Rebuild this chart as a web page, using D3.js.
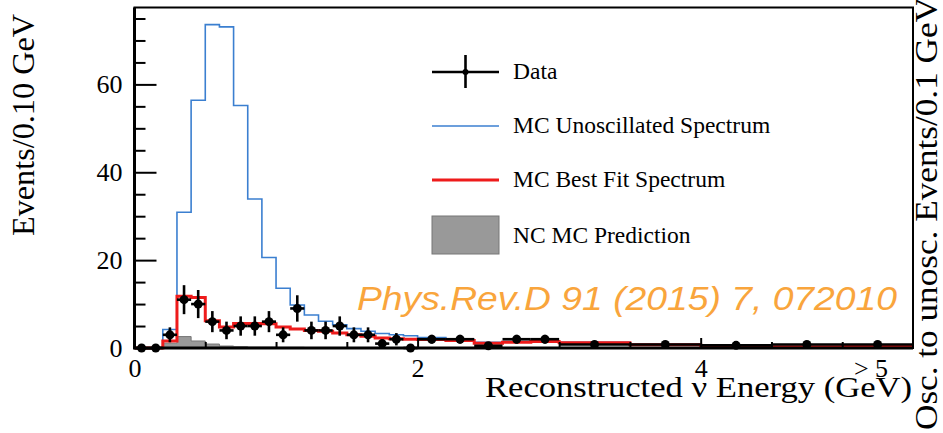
<!DOCTYPE html>
<html lang="en">
<head>
  <meta charset="UTF-8">
  <title>Reconstructed neutrino energy spectrum</title>
  <script src="https://cdnjs.cloudflare.com/ajax/libs/d3/7.8.5/d3.min.js"></script>
  <style>
    body { margin: 0; background: #fff; }
    text { font-family: "Liberation Serif", "Times New Roman", serif; fill: #000; }
  </style>
</head>
<body>
  <svg width="943" height="433"></svg>
  <script>
    // bin edges (GeV): 0.1 wide up to 2, 0.2 up to 3, 0.5 up to 5.5 (overflow)
    const binEdges = [0, 0.1, 0.2, 0.3, 0.4, 0.5, 0.6, 0.7, 0.8, 0.9, 1.0,
      1.1, 1.2, 1.3, 1.4, 1.5, 1.6, 1.7, 1.8, 1.9, 2.0,
      2.2, 2.4, 2.6, 2.8, 3.0, 3.5, 4.0, 4.5, 5.0, 5.5];

    // events / 0.10 GeV
    const unoscMC = [0, 0, 4.2, 30.9, 56.4, 73.6, 73.1, 55.2, 33.9, 20.6,
      13.6, 9.8, 7.5, 6.1, 5.3, 4.4, 3.8, 3.3, 3.0, 2.8,
      2.4, 1.9, 1.3, 1.45, 1.6, 1.3, 0.85, 0.55, 0.35, 0.6];
    const bestFitMC = [0, 0, 1.6, 11.8, 11.5, 6.2, 4.8, 5.6, 5.6, 5.5,
      4.8, 4.3, 4.0, 3.8, 3.4, 3.0, 2.7, 2.3, 2.1, 2.0,
      1.95, 1.7, 1.1, 1.3, 1.5, 1.2, 0.75, 0.5, 0.3, 0.55];
    const ncMC = [0, 0, 1.1, 2.6, 1.6, 0.9, 0.45, 0.3, 0.2, 0.2,
      0.15, 0.15, 0.1, 0.1, 0.1, 0.1, 0.1, 0.05, 0.05, 0.05,
      0.05, 0.05, 0.05, 0.05, 0.05, 0.03, 0.03, 0.02, 0.02, 0.02];
    const dataVals = [0, 0, 3, 11, 10, 6, 4, 5, 5, 6,
      3, 9, 4, 4, 5, 3, 3, 1, 2, 0,
      2, 2, 0.5, 2, 2, 0.8, 0.8, 0.6, 0.8, 0.8];
    const dataErr = [0, 0, 1.7, 3.3, 3.2, 2.4, 2, 2.2, 2.2, 2.4,
      1.7, 3, 2, 2, 2.2, 1.7, 1.7, 1, 1.4, 0,
      1, 1, 0.5, 1, 1, 0.4, 0.4, 0.35, 0.4, 0.4];

    const yTicks = [0, 20, 40, 60];
    const xTickPos = [0, 2, 4, 5.2];
    const xTickLabels = ["0", "2", "4", "> 5"];

    const legendItems = ["Data", "MC Unoscillated Spectrum", "MC Best Fit Spectrum", "NC MC Prediction"];

    const svg = d3.select("svg");
    const x = d3.scaleLinear().domain([0, 5.5]).range([134.5, 913]);
    const y = d3.scaleLinear().domain([0, 77.5]).range([348, 7.5]);

    const blue = "#3b7fd0";
    const red = "#ee1b1b";

    // step outline through the bins
    function stepPoints(vals) {
      const pts = vals.map((v, i) => [binEdges[i], v]);
      pts.push([binEdges[binEdges.length - 1], vals[vals.length - 1]]);
      return pts;
    }
    const stepLine = d3.line().x(d => x(d[0])).y(d => y(d[1])).curve(d3.curveStepAfter);
    const stepArea = d3.area().x(d => x(d[0])).y0(y(0)).y1(d => y(d[1])).curve(d3.curveStepAfter);

    // NC prediction (filled)
    svg.append("path")
      .attr("d", stepArea(stepPoints(ncMC)))
      .attr("fill", "#999")
      .attr("stroke", "#777")
      .attr("stroke-width", 1);

    svg.append("path")
      .attr("d", stepLine(stepPoints(unoscMC)))
      .attr("fill", "none")
      .attr("stroke", blue)
      .attr("stroke-width", 1.6);

    svg.append("path")
      .attr("d", stepLine(stepPoints(bestFitMC)))
      .attr("fill", "none")
      .attr("stroke", red)
      .attr("stroke-width", 3);

    // data points with error bars
    const pts = dataVals.map((v, i) => ({
      lo: binEdges[i], hi: binEdges[i + 1],
      c: (binEdges[i] + binEdges[i + 1]) / 2, v, e: dataErr[i]
    }));
    const dg = svg.append("g");
    dg.selectAll("line.h").data(pts).enter().append("line")
      .attr("x1", d => x(d.lo)).attr("x2", d => x(d.hi))
      .attr("y1", d => y(d.v)).attr("y2", d => y(d.v))
      .attr("stroke", "#000").attr("stroke-width", 2.6);
    dg.selectAll("line.v").data(pts.filter(d => d.e > 0)).enter().append("line")
      .attr("x1", d => x(d.c)).attr("x2", d => x(d.c))
      .attr("y1", d => y(d.v - d.e)).attr("y2", d => y(d.v + d.e))
      .attr("stroke", "#000").attr("stroke-width", 2.6);
    dg.selectAll("circle").data(pts).enter().append("circle")
      .attr("cx", d => x(d.c)).attr("cy", d => y(d.v))
      .attr("r", 4.5).attr("fill", "#000");

    // axes (ticks inward)
    const yMajor = svg.append("g").attr("transform", `translate(${x(0)},0)`)
      .call(d3.axisLeft(y).tickValues(yTicks).tickSize(-22).tickPadding(12));
    const yMinor = svg.append("g").attr("transform", `translate(${x(0)},0)`)
      .call(d3.axisLeft(y).tickValues(d3.range(5, 76, 5).filter(v => v % 20 !== 0)).tickSize(-11).tickFormat(""));
    const xMajor = svg.append("g").attr("transform", `translate(0,${y(0)})`)
      .call(d3.axisBottom(x).tickValues([2, 4]).tickSize(-10).tickFormat(""));
    const xMinor = svg.append("g").attr("transform", `translate(0,${y(0)})`)
      .call(d3.axisBottom(x).tickValues([0.5, 1, 1.5, 2.5, 3, 3.5, 4.5, 5]).tickSize(-6).tickFormat(""));
    const xLab = svg.append("g").attr("transform", `translate(0,${y(0)})`)
      .call(d3.axisBottom(x).tickValues(xTickPos).tickSize(0).tickPadding(11)
        .tickFormat((d, i) => xTickLabels[i]));

    [yMajor, yMinor, xMajor, xMinor, xLab].forEach(g => {
      g.select(".domain").remove();
      g.selectAll(".tick line").attr("stroke", "#000").attr("stroke-width", 2);
      g.selectAll("text").style("font-family", "Liberation Serif").style("font-size", "26px").attr("fill", "#000");
    });

    // frame
    svg.append("rect")
      .attr("x", x(0)).attr("y", y(77.5))
      .attr("width", x(5.5) - x(0)).attr("height", y(0) - y(77.5))
      .attr("fill", "none").attr("stroke", "#000").attr("stroke-width", 2);
    svg.append("path")
      .attr("d", `M${x(0)},${y(77.5)}V${y(0)}H${x(5.5)}`)
      .attr("fill", "none").attr("stroke", "#000").attr("stroke-width", 3);

    // axis titles
    svg.append("text")
      .attr("transform", "translate(34,236) rotate(-90)")
      .attr("textLength", 222).attr("lengthAdjust", "spacingAndGlyphs")
      .style("font-size", "32px")
      .text("Events/0.10 GeV");
    svg.append("text")
      .attr("x", 485).attr("y", 397)
      .attr("textLength", 427).attr("lengthAdjust", "spacingAndGlyphs")
      .style("font-size", "30px")
      .text("Reconstructed \u03bd Energy (GeV)");
    svg.append("text")
      .attr("transform", "translate(937,430) rotate(-90)")
      .attr("textLength", 433).attr("lengthAdjust", "spacingAndGlyphs")
      .style("font-size", "32px")
      .text("Osc. to unosc. Events/0.1 GeV");

    // legend
    const lg = svg.append("g");
    const lx0 = 432, lx1 = 499, ty = [72, 126, 180, 236];
    lg.append("line").attr("x1", lx0).attr("x2", lx1).attr("y1", ty[0]).attr("y2", ty[0])
      .attr("stroke", "#000").attr("stroke-width", 2.6);
    lg.append("line").attr("x1", (lx0 + lx1) / 2).attr("x2", (lx0 + lx1) / 2).attr("y1", ty[0] - 17).attr("y2", ty[0] + 16)
      .attr("stroke", "#000").attr("stroke-width", 2.6);
    lg.append("circle").attr("cx", (lx0 + lx1) / 2).attr("cy", ty[0]).attr("r", 3).attr("fill", "#000");
    lg.append("line").attr("x1", lx0).attr("x2", lx1).attr("y1", ty[1]).attr("y2", ty[1])
      .attr("stroke", blue).attr("stroke-width", 1.6);
    lg.append("line").attr("x1", lx0).attr("x2", lx1).attr("y1", ty[2]).attr("y2", ty[2])
      .attr("stroke", red).attr("stroke-width", 3);
    lg.append("rect").attr("x", lx0).attr("y", 216).attr("width", lx1 - lx0).attr("height", 38)
      .attr("fill", "#999").attr("stroke", "#777").attr("stroke-width", 1);
    lg.selectAll("text.leg").data(legendItems).enter().append("text")
      .attr("x", 513).attr("y", (d, i) => ty[i] + 7)
      .style("font-size", "23.5px")
      .text(d => d);

    // reference watermark
    svg.append("text")
      .attr("x", 357).attr("y", 310)
      .attr("textLength", 540).attr("lengthAdjust", "spacingAndGlyphs")
      .style("font-family", "Liberation Sans, Arial, sans-serif")
      .style("font-style", "italic")
      .style("font-size", "34px")
      .style("fill", "#f9a53c")
      .text("Phys.Rev.D 91 (2015) 7, 072010");
  </script>
</body>
</html>
